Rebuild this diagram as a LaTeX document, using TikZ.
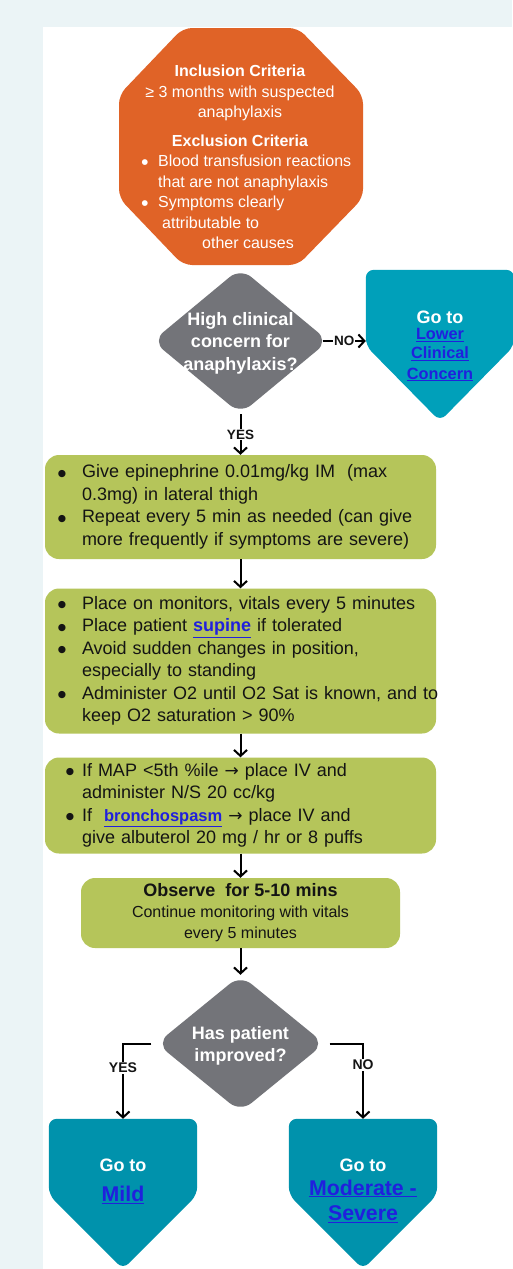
\documentclass[tikz,border=0pt]{standalone}
\usepackage{fontspec}
\setmainfont{Liberation Sans}
\newfontfamily\dejavu{DejaVu Sans}
\usetikzlibrary{shapes.geometric,arrows.meta,calc}
\definecolor{bgc}{HTML}{EBF4F6}
\definecolor{orng}{HTML}{E06327}
\definecolor{dgray}{HTML}{737479}
\definecolor{grn}{HTML}{B5C55A}
\definecolor{teala}{HTML}{00A0BA}
\definecolor{tealb}{HTML}{0092AC}
\definecolor{lnk}{HTML}{2020DD}
\definecolor{txt}{HTML}{141414}
\newcommand{\fs}[2]{\fontsize{#1}{#2}\selectfont}
\newcommand{\lk}[1]{\textcolor{lnk}{\underline{#1}}}
\newcommand{\rarr}{{\dejavu\fs{17}{17}→}}
\newcommand{\bigbul}{\makebox[0pt][c]{\raisebox{1.6pt}{\dejavu\fs{9.5}{9.5}●}}}
\newcommand{\smbul}{\makebox[0pt][c]{\raisebox{1.5pt}{\dejavu\fs{7.5}{7.5}●}}}
\newcommand{\bitem}[2][10pt]{\noindent\hangindent=30pt\hangafter=1\makebox[30pt][l]{\hspace*{#1}\bigbul}#2\par}
\tikzset{
  conn/.style={line width=2pt, -{Straight Barb[length=6pt,width=13pt]}},
  lbl/.style={fill=white, inner sep=1pt, text=txt, font=\bfseries\fs{13.5}{13.5}},
  lblb/.style={lbl, font=\bfseries\fs{14}{14}},
  otxt/.style={text=white, inner sep=0pt, anchor=base, font=\fs{16}{19}},
  grnbox/.style={fill=grn, rounded corners=14pt, inner xsep=7pt, inner ysep=0pt, text width=377pt, align=left, font=\fs{18}{22.5}, text=txt},
  pentnode/.style={inner sep=0pt, minimum width=148pt, minimum height=150pt},
  gotxt/.style={text=white, inner sep=0pt, anchor=base, font=\bfseries\fs{18}{18}},
  lktxt/.style={inner sep=0pt, anchor=base, font=\bfseries\fs{16.3}{16.3}},
  bigtxt/.style={inner sep=0pt, anchor=base, font=\bfseries\fs{21.3}{21.3}},
  dia/.style={diamond, fill=dgray, rounded corners=14pt, inner sep=0pt}
}
\newcommand{\pentpath}[2]{\fill[#2, rounded corners=8pt] (#1.north west) -- (#1.north east) -- ($(#1.north east)+(0,76)$) -- (#1.south) -- ($(#1.north west)+(0,76)$) -- cycle;}
\begin{document}
\begin{tikzpicture}[x=1pt, y=-1pt]
\useasboundingbox (0,0) rectangle (512,1269);
\fill[bgc] (0,0) rectangle (512,1269);
\fill[white] (43,27) rectangle (512,1269);

% octagon
\fill[orng, rounded corners=9pt] (183,28) -- (298,28) -- (363,95) -- (363,198) -- (298,265) -- (183,265) -- (119,198) -- (119,95) -- cycle;
\node[otxt, font=\bfseries\fs{16}{19}] (inc) at (240,76.5) {Inclusion Criteria};
\node[otxt] (inc1) at (240,97) {≥ 3 months with suspected};
\node[otxt] (inc2) at (240,117) {anaphylaxis};
\node[otxt, font=\bfseries\fs{16}{19}] (exc) at (240,146.5) {Exclusion Criteria};
\node[otxt] (bul1) at (145,166) {\smbul};
\node[otxt, anchor=base west] (exc1) at (158,166) {Blood transfusion reactions};
\node[otxt, anchor=base west] (exc1b) at (158,187) {that are not anaphylaxis};
\node[otxt] (bul2) at (145,207) {\smbul};
\node[otxt, anchor=base west] (exc2) at (158,207) {Symptoms clearly};
\node[otxt, anchor=base west] (exc2b) at (162,228) {attributable to};
\node[otxt, anchor=base west] (exc2c) at (202,248) {other causes};

% decision 1
\node[dia, minimum width=176pt, minimum height=146pt] (q1) at (240.5,341) {};
\node[font=\bfseries\fs{18}{22.5}, text=white, align=center, inner sep=0pt] (q1t) at (240.5,343) {High clinical\\concern for\\anaphylaxis?};

% lower clinical concern
\node[pentnode, minimum height=151pt] (lc) at (440,345.5) {};
\pentpath{lc}{teala}
\node[gotxt] (lcgo) at (440,323) {Go to};
\node[lktxt] (lc1) at (440,339.5) {\lk{Lower}};
\node[lktxt] (lc2) at (440,358.5) {\lk{Clinical}};
\node[lktxt] (lc3) at (440,379) {\lk{Concern}};

% green boxes
\node[grnbox, minimum height=104pt] (b1) at (240.5,507) {%
\bitem{\mbox{Give epinephrine 0.01mg/kg IM\ \ (max}\newline\mbox{0.3mg) in lateral thigh}}%
\bitem{\mbox{Repeat every 5 min as needed (can give}\newline\mbox{more frequently if symptoms are severe)}}};

\node[grnbox, minimum height=145pt] (b2) at (240.5,661) {%
\bitem{\mbox{Place on monitors, vitals every 5 minutes}}%
\bitem{\mbox{Place patient \lk{\bfseries supine} if tolerated}}%
\bitem{\mbox{Avoid sudden changes in position,}\newline\mbox{especially to standing}}%
\bitem{\mbox{Administer O2 until O2 Sat is known, and to}\newline\mbox{keep O2 saturation > 90\%}}};

\node[grnbox, minimum height=96pt] (b3) at (240.5,805.5) {%
\bitem[18pt]{\mbox{If MAP <5th \%ile \rarr\ place IV and}\newline\mbox{administer N/S 20 cc/kg}}%
\bitem[18pt]{\mbox{If\ \ \lk{\fs{16.5}{16.5}\bfseries bronchospasm} \rarr\ place IV and}\newline\mbox{give albuterol 20 mg / hr or 8 puffs}}};

\node[fill=grn, rounded corners=14pt, minimum width=319pt, minimum height=70pt, inner sep=0pt, align=center, text=txt, font=\fs{16}{21}] (b4) at (240.5,913) {{\bfseries\fs{18}{21}Observe\ \ for 5-10 mins}\\Continue monitoring with vitals\\every 5 minutes};

% decision 2
\node[dia, minimum width=168pt, minimum height=137pt] (q2) at (240.5,1043.5) {};
\node[font=\bfseries\fs{18}{22}, text=white, align=center, inner sep=0pt] (q2t) at (240.5,1045.5) {Has patient\\improved?};

% bottom exits
\node[pentnode] (mild) at (123,1194) {};
\pentpath{mild}{tealb}
\node[pentnode] (mod) at (363,1194) {};
\pentpath{mod}{tealb}
\node[gotxt] (mgo) at (123,1171.7) {Go to};
\node[bigtxt] (m1) at (123,1201.7) {\lk{Mild}};
\node[gotxt] (sgo) at (363,1171.7) {Go to};
\node[bigtxt] (s1) at (363,1195) {\lk{Moderate -}};
\node[bigtxt] (s2) at (363,1220.7) {\lk{Severe}};

% connectors
\draw[conn] ([xshift=-6pt]q1.east) -- (q1.east -| lc.west) node[lbl, midway] {NO};
\draw[conn] (q1.south) -- (b1.north) node[lbl, midway] {YES};
\draw[conn] (b1.south) -- (b2.north);
\draw[conn] (b2.south) -- (b3.north);
\draw[conn] (b3.south) -- (b4.north);
\draw[conn] (b4.south) -- (q2.north);
\draw[conn] ([xshift=-5pt]q2.west) -| (mild.north) node[lblb, pos=0.66] {YES};
\draw[conn] ([xshift=5pt]q2.east) -| (mod.north) node[lblb, pos=0.64] {NO};
\end{tikzpicture}
\end{document}
